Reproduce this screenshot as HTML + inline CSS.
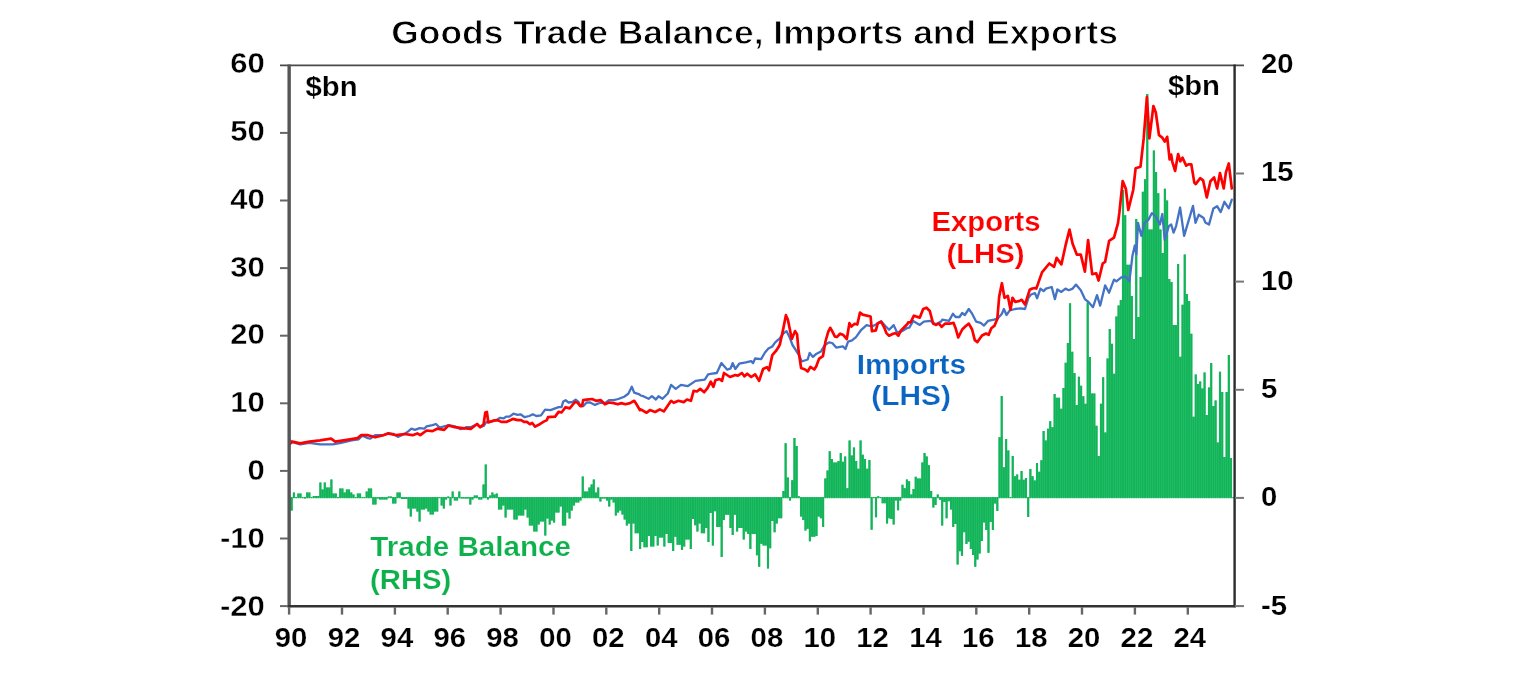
<!DOCTYPE html>
<html><head><meta charset="utf-8"><title>Goods Trade Balance, Imports and Exports</title>
<style>html,body{margin:0;padding:0;background:#fff}svg{display:block}text{font-family:"Liberation Sans",Arial,sans-serif;font-weight:bold}</style>
</head><body>
<svg width="1536" height="680" viewBox="0 0 1536 680">
<rect width="1536" height="680" fill="#fff"/>
<path d="M288.55 497.0h1.91V510.6h-1.91zM290.75 497.0h1.91V510.6h-1.91zM292.96 492.6h1.91V498.2h-1.91zM295.16 497.0h1.91V498.2h-1.91zM297.37 493.6h1.91V498.2h-1.91zM299.57 493.6h1.91V498.2h-1.91zM301.78 497.0h1.91V498.2h-1.91zM303.98 497.0h1.91V498.6h-1.91zM306.19 492.6h1.91V498.2h-1.91zM308.39 492.6h1.91V498.2h-1.91zM310.60 497.0h1.91V498.2h-1.91zM312.80 496.1h1.91V498.2h-1.91zM315.01 496.1h1.91V498.2h-1.91zM317.21 496.1h1.91V498.2h-1.91zM319.42 482.6h1.91V498.2h-1.91zM321.62 489.6h1.91V498.2h-1.91zM323.83 482.6h1.91V498.2h-1.91zM326.03 487.6h1.91V498.2h-1.91zM328.24 487.6h1.91V498.2h-1.91zM330.44 479.6h1.91V498.2h-1.91zM332.65 493.6h1.91V498.2h-1.91zM334.85 493.6h1.91V498.2h-1.91zM337.06 497.0h1.91V498.2h-1.91zM339.26 488.6h1.91V498.2h-1.91zM341.47 488.6h1.91V498.2h-1.91zM343.67 492.6h1.91V498.2h-1.91zM345.88 489.6h1.91V498.2h-1.91zM348.08 489.6h1.91V498.2h-1.91zM350.29 492.6h1.91V498.2h-1.91zM352.49 494.6h1.91V498.2h-1.91zM354.70 497.0h1.91V498.2h-1.91zM356.90 493.6h1.91V498.2h-1.91zM359.11 493.6h1.91V498.2h-1.91zM361.31 497.0h1.91V498.2h-1.91zM363.52 497.0h1.91V498.2h-1.91zM365.72 491.6h1.91V498.2h-1.91zM367.93 488.6h1.91V498.2h-1.91zM370.13 488.6h1.91V498.2h-1.91zM372.34 497.0h1.91V504.6h-1.91zM374.54 497.0h1.91V504.6h-1.91zM376.75 497.0h1.91V498.6h-1.91zM378.95 497.0h1.91V499.6h-1.91zM381.16 497.0h1.91V499.6h-1.91zM383.36 497.0h1.91V499.6h-1.91zM385.57 497.0h1.91V499.6h-1.91zM387.77 496.6h1.91V498.2h-1.91zM389.98 496.6h1.91V498.2h-1.91zM392.18 497.0h1.91V503.6h-1.91zM394.39 497.0h1.91V503.6h-1.91zM396.59 492.6h1.91V498.2h-1.91zM398.80 492.6h1.91V498.2h-1.91zM401.00 497.0h1.91V499.1h-1.91zM403.21 497.0h1.91V499.1h-1.91zM405.41 497.0h1.91V499.1h-1.91zM407.62 497.0h1.91V508.6h-1.91zM409.82 497.0h1.91V516.6h-1.91zM412.03 497.0h1.91V508.6h-1.91zM414.23 497.0h1.91V508.6h-1.91zM416.44 497.0h1.91V511.6h-1.91zM418.64 497.0h1.91V521.6h-1.91zM420.85 497.0h1.91V509.6h-1.91zM423.05 497.0h1.91V509.6h-1.91zM425.26 497.0h1.91V508.6h-1.91zM427.46 497.0h1.91V511.6h-1.91zM429.67 497.0h1.91V514.6h-1.91zM431.88 497.0h1.91V514.6h-1.91zM434.08 497.0h1.91V511.6h-1.91zM436.28 497.0h1.91V511.6h-1.91zM438.49 497.0h1.91V498.2h-1.91zM440.69 497.0h1.91V505.6h-1.91zM442.90 497.0h1.91V508.6h-1.91zM445.10 497.0h1.91V499.6h-1.91zM447.31 496.6h1.91V498.2h-1.91zM449.51 497.0h1.91V505.6h-1.91zM451.72 491.6h1.91V498.2h-1.91zM453.92 497.0h1.91V500.6h-1.91zM456.13 497.0h1.91V500.6h-1.91zM458.33 491.6h1.91V498.2h-1.91zM460.54 497.0h1.91V498.6h-1.91zM462.74 497.0h1.91V498.6h-1.91zM464.95 497.0h1.91V498.6h-1.91zM467.15 497.0h1.91V498.6h-1.91zM469.36 497.0h1.91V504.6h-1.91zM471.56 497.0h1.91V499.6h-1.91zM473.77 495.6h1.91V498.2h-1.91zM475.97 495.6h1.91V498.2h-1.91zM478.18 497.0h1.91V499.6h-1.91zM480.38 497.0h1.91V499.6h-1.91zM482.59 484.6h1.91V498.2h-1.91zM484.79 464.6h1.91V498.2h-1.91zM487.00 497.0h1.91V499.6h-1.91zM489.20 495.6h1.91V498.2h-1.91zM491.41 492.6h1.91V498.2h-1.91zM493.61 494.6h1.91V498.2h-1.91zM495.82 493.6h1.91V498.2h-1.91zM498.02 497.0h1.91V509.6h-1.91zM500.23 497.0h1.91V509.6h-1.91zM502.43 497.0h1.91V505.6h-1.91zM504.64 497.0h1.91V517.6h-1.91zM506.84 497.0h1.91V509.6h-1.91zM509.05 497.0h1.91V509.6h-1.91zM511.25 497.0h1.91V509.6h-1.91zM513.46 497.0h1.91V519.6h-1.91zM515.66 497.0h1.91V519.6h-1.91zM517.87 497.0h1.91V515.6h-1.91zM520.07 497.0h1.91V515.6h-1.91zM522.28 497.0h1.91V515.6h-1.91zM524.49 497.0h1.91V509.6h-1.91zM526.69 497.0h1.91V517.6h-1.91zM528.89 497.0h1.91V525.6h-1.91zM531.10 497.0h1.91V525.6h-1.91zM533.30 497.0h1.91V531.6h-1.91zM535.51 497.0h1.91V531.6h-1.91zM537.72 497.0h1.91V524.6h-1.91zM539.92 497.0h1.91V521.6h-1.91zM542.12 497.0h1.91V521.6h-1.91zM544.33 497.0h1.91V535.6h-1.91zM546.53 497.0h1.91V518.6h-1.91zM548.74 497.0h1.91V524.6h-1.91zM550.94 497.0h1.91V520.6h-1.91zM553.15 497.0h1.91V522.6h-1.91zM555.35 497.0h1.91V512.6h-1.91zM557.56 497.0h1.91V512.6h-1.91zM559.76 497.0h1.91V506.6h-1.91zM561.97 497.0h1.91V525.6h-1.91zM564.17 497.0h1.91V525.6h-1.91zM566.38 497.0h1.91V512.6h-1.91zM568.58 497.0h1.91V518.6h-1.91zM570.79 497.0h1.91V510.6h-1.91zM573.00 497.0h1.91V505.6h-1.91zM575.20 497.0h1.91V502.6h-1.91zM577.40 497.0h1.91V502.6h-1.91zM579.61 497.0h1.91V500.6h-1.91zM581.81 476.6h1.91V498.2h-1.91zM584.02 491.6h1.91V498.2h-1.91zM586.23 491.6h1.91V498.2h-1.91zM588.43 487.6h1.91V498.2h-1.91zM590.63 484.6h1.91V498.2h-1.91zM592.84 479.6h1.91V498.2h-1.91zM595.04 492.6h1.91V498.2h-1.91zM597.25 487.6h1.91V498.2h-1.91zM599.46 497.0h1.91V501.6h-1.91zM601.66 497.0h1.91V498.6h-1.91zM603.86 497.0h1.91V498.6h-1.91zM606.07 497.0h1.91V500.6h-1.91zM608.27 497.0h1.91V506.6h-1.91zM610.48 497.0h1.91V499.6h-1.91zM612.68 497.0h1.91V502.6h-1.91zM614.89 497.0h1.91V515.6h-1.91zM617.09 497.0h1.91V512.6h-1.91zM619.30 497.0h1.91V510.6h-1.91zM621.50 497.0h1.91V514.6h-1.91zM623.71 497.0h1.91V519.6h-1.91zM625.91 497.0h1.91V525.6h-1.91zM628.12 497.0h1.91V523.5h-1.91zM630.32 497.0h1.91V550.9h-1.91zM632.53 497.0h1.91V523.5h-1.91zM634.74 497.0h1.91V533.2h-1.91zM636.94 497.0h1.91V533.2h-1.91zM639.14 497.0h1.91V549.1h-1.91zM641.35 497.0h1.91V542.1h-1.91zM643.55 497.0h1.91V547.3h-1.91zM645.76 497.0h1.91V547.3h-1.91zM647.97 497.0h1.91V535.9h-1.91zM650.17 497.0h1.91V546.5h-1.91zM652.37 497.0h1.91V546.5h-1.91zM654.58 497.0h1.91V535.9h-1.91zM656.78 497.0h1.91V545.6h-1.91zM658.99 497.0h1.91V537.6h-1.91zM661.20 497.0h1.91V537.6h-1.91zM663.40 497.0h1.91V546.5h-1.91zM665.60 497.0h1.91V534.1h-1.91zM667.81 497.0h1.91V542.9h-1.91zM670.01 497.0h1.91V542.9h-1.91zM672.22 497.0h1.91V550.9h-1.91zM674.42 497.0h1.91V536.8h-1.91zM676.63 497.0h1.91V544.7h-1.91zM678.83 497.0h1.91V544.7h-1.91zM681.04 497.0h1.91V550.0h-1.91zM683.25 497.0h1.91V546.5h-1.91zM685.45 497.0h1.91V539.4h-1.91zM687.65 497.0h1.91V539.4h-1.91zM689.86 497.0h1.91V549.1h-1.91zM692.06 497.0h1.91V519.1h-1.91zM694.27 497.0h1.91V525.3h-1.91zM696.48 497.0h1.91V531.5h-1.91zM698.68 497.0h1.91V523.5h-1.91zM700.88 497.0h1.91V533.2h-1.91zM703.09 497.0h1.91V533.2h-1.91zM705.29 497.0h1.91V527.9h-1.91zM707.50 497.0h1.91V542.1h-1.91zM709.71 497.0h1.91V512.9h-1.91zM711.91 497.0h1.91V545.6h-1.91zM714.11 497.0h1.91V511.2h-1.91zM716.32 497.0h1.91V527.1h-1.91zM718.52 497.0h1.91V527.1h-1.91zM720.73 497.0h1.91V557.1h-1.91zM722.93 497.0h1.91V520.0h-1.91zM725.14 497.0h1.91V514.7h-1.91zM727.34 497.0h1.91V514.7h-1.91zM729.55 497.0h1.91V527.9h-1.91zM731.75 497.0h1.91V535.0h-1.91zM733.96 497.0h1.91V514.7h-1.91zM736.16 497.0h1.91V531.5h-1.91zM738.37 497.0h1.91V527.9h-1.91zM740.57 497.0h1.91V527.9h-1.91zM742.78 497.0h1.91V539.4h-1.91zM744.99 497.0h1.91V531.5h-1.91zM747.19 497.0h1.91V534.1h-1.91zM749.39 497.0h1.91V549.1h-1.91zM751.60 497.0h1.91V534.1h-1.91zM753.80 497.0h1.91V534.1h-1.91zM756.01 497.0h1.91V555.3h-1.91zM758.22 497.0h1.91V566.8h-1.91zM760.42 497.0h1.91V543.8h-1.91zM762.62 497.0h1.91V545.6h-1.91zM764.83 497.0h1.91V545.6h-1.91zM767.03 497.0h1.91V568.5h-1.91zM769.24 497.0h1.91V548.2h-1.91zM771.45 497.0h1.91V520.9h-1.91zM773.65 497.0h1.91V532.3h-1.91zM775.85 497.0h1.91V523.5h-1.91zM778.06 497.0h1.91V518.2h-1.91zM780.26 497.0h1.91V518.2h-1.91zM782.47 490.9h1.91V498.2h-1.91zM784.67 443.2h1.91V498.2h-1.91zM786.88 477.6h1.91V498.2h-1.91zM789.08 497.0h1.91V500.6h-1.91zM791.29 480.3h1.91V498.2h-1.91zM793.50 437.9h1.91V498.2h-1.91zM795.70 445.9h1.91V498.2h-1.91zM797.90 496.2h1.91V498.2h-1.91zM800.11 497.0h1.91V516.5h-1.91zM802.31 497.0h1.91V520.0h-1.91zM804.52 497.0h1.91V530.6h-1.91zM806.73 497.0h1.91V528.8h-1.91zM808.93 497.0h1.91V541.2h-1.91zM811.13 497.0h1.91V536.8h-1.91zM813.34 497.0h1.91V536.8h-1.91zM815.54 497.0h1.91V535.9h-1.91zM817.75 497.0h1.91V516.5h-1.91zM819.95 497.0h1.91V518.2h-1.91zM822.16 497.0h1.91V527.1h-1.91zM824.37 478.5h1.91V498.2h-1.91zM826.57 470.6h1.91V498.2h-1.91zM828.77 451.2h1.91V498.2h-1.91zM830.98 459.1h1.91V498.2h-1.91zM833.18 462.6h1.91V498.2h-1.91zM835.39 462.6h1.91V498.2h-1.91zM837.60 460.9h1.91V498.2h-1.91zM839.80 452.9h1.91V498.2h-1.91zM842.00 461.8h1.91V498.2h-1.91zM844.21 456.5h1.91V498.2h-1.91zM846.41 488.2h1.91V498.2h-1.91zM848.62 440.6h1.91V498.2h-1.91zM850.82 455.6h1.91V498.2h-1.91zM853.03 447.6h1.91V498.2h-1.91zM855.24 460.9h1.91V498.2h-1.91zM857.44 468.8h1.91V498.2h-1.91zM859.64 440.6h1.91V498.2h-1.91zM861.85 454.7h1.91V498.2h-1.91zM864.05 459.1h1.91V498.2h-1.91zM866.26 468.8h1.91V498.2h-1.91zM868.46 460.0h1.91V498.2h-1.91zM870.67 497.0h1.91V529.7h-1.91zM872.88 497.0h1.91V498.2h-1.91zM875.08 497.0h1.91V517.3h-1.91zM877.28 496.2h1.91V498.2h-1.91zM879.49 497.0h1.91V498.2h-1.91zM881.69 497.0h1.91V503.2h-1.91zM883.90 497.0h1.91V503.2h-1.91zM886.11 497.0h1.91V523.5h-1.91zM888.31 497.0h1.91V518.2h-1.91zM890.51 497.0h1.91V519.1h-1.91zM892.72 497.0h1.91V524.4h-1.91zM894.92 497.0h1.91V500.6h-1.91zM897.13 497.0h1.91V510.3h-1.91zM899.33 497.0h1.91V500.6h-1.91zM901.54 484.7h1.91V498.2h-1.91zM903.75 488.2h1.91V498.2h-1.91zM905.95 479.4h1.91V498.2h-1.91zM908.15 481.2h1.91V498.2h-1.91zM910.36 494.4h1.91V498.2h-1.91zM912.56 489.1h1.91V498.2h-1.91zM914.77 476.8h1.91V498.2h-1.91zM916.98 478.5h1.91V498.2h-1.91zM919.18 478.5h1.91V498.2h-1.91zM921.38 462.6h1.91V498.2h-1.91zM923.59 452.9h1.91V498.2h-1.91zM925.79 456.5h1.91V498.2h-1.91zM928.00 465.3h1.91V498.2h-1.91zM930.20 490.9h1.91V498.2h-1.91zM932.41 497.0h1.91V507.6h-1.91zM934.62 497.0h1.91V505.0h-1.91zM936.82 494.4h1.91V498.2h-1.91zM939.02 497.0h1.91V499.7h-1.91zM941.23 497.0h1.91V525.6h-1.91zM943.43 497.0h1.91V502.1h-1.91zM945.64 497.0h1.91V518.2h-1.91zM947.85 497.0h1.91V501.3h-1.91zM950.05 497.0h1.91V509.4h-1.91zM952.25 497.0h1.91V527.1h-1.91zM954.46 497.0h1.91V524.1h-1.91zM956.66 497.0h1.91V564.6h-1.91zM958.87 497.0h1.91V551.3h-1.91zM961.07 497.0h1.91V555.7h-1.91zM963.28 497.0h1.91V532.2h-1.91zM965.49 497.0h1.91V544.0h-1.91zM967.69 497.0h1.91V541.8h-1.91zM969.89 497.0h1.91V549.1h-1.91zM972.10 497.0h1.91V555.0h-1.91zM974.30 497.0h1.91V566.8h-1.91zM976.51 497.0h1.91V559.4h-1.91zM978.72 497.0h1.91V553.5h-1.91zM980.92 497.0h1.91V541.0h-1.91zM983.12 497.0h1.91V522.6h-1.91zM985.33 497.0h1.91V530.0h-1.91zM987.53 497.0h1.91V552.8h-1.91zM989.74 497.0h1.91V521.9h-1.91zM991.94 497.0h1.91V530.0h-1.91zM994.15 497.0h1.91V503.5h-1.91zM996.36 497.0h1.91V510.9h-1.91zM998.56 437.3h1.91V498.2h-1.91zM1000.76 395.9h1.91V498.2h-1.91zM1002.97 467.3h1.91V498.2h-1.91zM1005.17 439.1h1.91V498.2h-1.91zM1007.38 450.6h1.91V498.2h-1.91zM1009.58 497.0h1.91V498.2h-1.91zM1011.79 455.9h1.91V498.2h-1.91zM1014.00 476.2h1.91V498.2h-1.91zM1016.20 474.4h1.91V498.2h-1.91zM1018.40 479.7h1.91V498.2h-1.91zM1020.61 470.9h1.91V498.2h-1.91zM1022.81 479.7h1.91V498.2h-1.91zM1025.02 477.9h1.91V498.2h-1.91zM1027.23 497.0h1.91V516.9h-1.91zM1029.43 469.1h1.91V498.2h-1.91zM1031.64 476.2h1.91V498.2h-1.91zM1033.84 480.6h1.91V498.2h-1.91zM1036.05 462.9h1.91V498.2h-1.91zM1038.25 471.8h1.91V498.2h-1.91zM1040.45 460.3h1.91V498.2h-1.91zM1042.66 430.9h1.91V498.2h-1.91zM1044.87 440.4h1.91V498.2h-1.91zM1047.07 428.7h1.91V498.2h-1.91zM1049.28 421.3h1.91V498.2h-1.91zM1051.48 427.2h1.91V498.2h-1.91zM1053.68 394.1h1.91V498.2h-1.91zM1055.89 397.8h1.91V498.2h-1.91zM1058.10 397.8h1.91V498.2h-1.91zM1060.30 408.8h1.91V498.2h-1.91zM1062.51 388.0h1.91V498.2h-1.91zM1064.71 362.8h1.91V498.2h-1.91zM1066.91 343.0h1.91V498.2h-1.91zM1069.12 303.2h1.91V498.2h-1.91zM1071.33 351.8h1.91V498.2h-1.91zM1073.53 373.0h1.91V498.2h-1.91zM1075.74 405.1h1.91V498.2h-1.91zM1077.94 376.8h1.91V498.2h-1.91zM1080.14 385.8h1.91V498.2h-1.91zM1082.35 396.3h1.91V498.2h-1.91zM1084.56 403.7h1.91V498.2h-1.91zM1086.76 302.5h1.91V498.2h-1.91zM1088.97 357.0h1.91V498.2h-1.91zM1091.17 393.4h1.91V498.2h-1.91zM1093.38 393.4h1.91V498.2h-1.91zM1095.58 425.7h1.91V498.2h-1.91zM1097.79 455.9h1.91V498.2h-1.91zM1099.99 403.7h1.91V498.2h-1.91zM1102.20 377.3h1.91V498.2h-1.91zM1104.40 432.4h1.91V498.2h-1.91zM1106.61 358.4h1.91V498.2h-1.91zM1108.81 329.0h1.91V498.2h-1.91zM1111.02 343.7h1.91V498.2h-1.91zM1113.22 373.8h1.91V498.2h-1.91zM1115.43 316.5h1.91V498.2h-1.91zM1117.63 305.4h1.91V498.2h-1.91zM1119.84 300.0h1.91V498.2h-1.91zM1122.04 190.0h1.91V498.2h-1.91zM1124.25 215.3h1.91V498.2h-1.91zM1126.45 264.7h1.91V498.2h-1.91zM1128.66 264.7h1.91V498.2h-1.91zM1130.86 296.0h1.91V498.2h-1.91zM1133.07 339.0h1.91V498.2h-1.91zM1135.27 219.0h1.91V498.2h-1.91zM1137.48 317.0h1.91V498.2h-1.91zM1139.68 277.0h1.91V498.2h-1.91zM1141.89 191.8h1.91V498.2h-1.91zM1144.09 179.3h1.91V498.2h-1.91zM1146.30 94.0h1.91V498.2h-1.91zM1148.50 229.6h1.91V498.2h-1.91zM1150.70 229.6h1.91V498.2h-1.91zM1152.91 150.6h1.91V498.2h-1.91zM1155.12 172.0h1.91V498.2h-1.91zM1157.32 193.3h1.91V498.2h-1.91zM1159.53 229.6h1.91V498.2h-1.91zM1161.73 253.0h1.91V498.2h-1.91zM1163.93 188.8h1.91V498.2h-1.91zM1166.14 200.6h1.91V498.2h-1.91zM1168.35 279.0h1.91V498.2h-1.91zM1170.55 282.0h1.91V498.2h-1.91zM1172.76 325.0h1.91V498.2h-1.91zM1174.96 325.0h1.91V498.2h-1.91zM1177.16 264.0h1.91V498.2h-1.91zM1179.37 356.8h1.91V498.2h-1.91zM1181.58 304.7h1.91V498.2h-1.91zM1183.78 254.4h1.91V498.2h-1.91zM1185.99 294.0h1.91V498.2h-1.91zM1188.19 301.0h1.91V498.2h-1.91zM1190.39 333.8h1.91V498.2h-1.91zM1192.60 416.7h1.91V498.2h-1.91zM1194.81 374.4h1.91V498.2h-1.91zM1197.01 384.0h1.91V498.2h-1.91zM1199.22 381.5h1.91V498.2h-1.91zM1201.42 388.5h1.91V498.2h-1.91zM1203.62 372.6h1.91V498.2h-1.91zM1205.83 415.0h1.91V498.2h-1.91zM1208.04 387.6h1.91V498.2h-1.91zM1210.24 363.0h1.91V498.2h-1.91zM1212.45 406.0h1.91V498.2h-1.91zM1214.65 400.5h1.91V498.2h-1.91zM1216.86 442.6h1.91V498.2h-1.91zM1219.06 371.8h1.91V498.2h-1.91zM1221.27 392.0h1.91V498.2h-1.91zM1223.47 457.0h1.91V498.2h-1.91zM1225.68 392.0h1.91V498.2h-1.91zM1227.88 355.0h1.91V498.2h-1.91zM1230.09 458.0h1.91V498.2h-1.91zM1232.29 497.0h1.91V498.2h-1.91z" fill="#11B458"/>
<path d="M288.40 497.6h2.21V510.6h-2.21zM290.60 497.6h2.21V510.6h-2.21zM292.81 492.6h2.21V497.6h-2.21zM297.22 493.6h2.21V497.6h-2.21zM299.42 493.6h2.21V497.6h-2.21zM303.83 497.6h2.21V498.6h-2.21zM306.04 492.6h2.21V497.6h-2.21zM308.25 492.6h2.21V497.6h-2.21zM312.65 496.1h2.21V497.6h-2.21zM314.86 496.1h2.21V497.6h-2.21zM317.06 496.1h2.21V497.6h-2.21zM319.27 482.6h2.21V497.6h-2.21zM321.47 489.6h2.21V497.6h-2.21zM323.68 482.6h2.21V497.6h-2.21zM325.88 487.6h2.21V497.6h-2.21zM328.09 487.6h2.21V497.6h-2.21zM330.29 479.6h2.21V497.6h-2.21zM332.50 493.6h2.21V497.6h-2.21zM334.70 493.6h2.21V497.6h-2.21zM339.12 488.6h2.21V497.6h-2.21zM341.32 488.6h2.21V497.6h-2.21zM343.52 492.6h2.21V497.6h-2.21zM345.73 489.6h2.21V497.6h-2.21zM347.94 489.6h2.21V497.6h-2.21zM350.14 492.6h2.21V497.6h-2.21zM352.34 494.6h2.21V497.6h-2.21zM356.75 493.6h2.21V497.6h-2.21zM358.96 493.6h2.21V497.6h-2.21zM365.57 491.6h2.21V497.6h-2.21zM367.78 488.6h2.21V497.6h-2.21zM369.99 488.6h2.21V497.6h-2.21zM372.19 497.6h2.21V504.6h-2.21zM374.39 497.6h2.21V504.6h-2.21zM376.60 497.6h2.21V498.6h-2.21zM378.80 497.6h2.21V499.6h-2.21zM381.01 497.6h2.21V499.6h-2.21zM383.21 497.6h2.21V499.6h-2.21zM385.42 497.6h2.21V499.6h-2.21zM387.62 496.6h2.21V497.6h-2.21zM389.83 496.6h2.21V497.6h-2.21zM392.03 497.6h2.21V503.6h-2.21zM394.24 497.6h2.21V503.6h-2.21zM396.44 492.6h2.21V497.6h-2.21zM398.65 492.6h2.21V497.6h-2.21zM400.85 497.6h2.21V499.1h-2.21zM403.06 497.6h2.21V499.1h-2.21zM405.26 497.6h2.21V499.1h-2.21zM407.47 497.6h2.21V508.6h-2.21zM409.67 497.6h2.21V516.6h-2.21zM411.88 497.6h2.21V508.6h-2.21zM414.08 497.6h2.21V508.6h-2.21zM416.29 497.6h2.21V511.6h-2.21zM418.50 497.6h2.21V521.6h-2.21zM420.70 497.6h2.21V509.6h-2.21zM422.90 497.6h2.21V509.6h-2.21zM425.11 497.6h2.21V508.6h-2.21zM427.31 497.6h2.21V511.6h-2.21zM429.52 497.6h2.21V514.6h-2.21zM431.73 497.6h2.21V514.6h-2.21zM433.93 497.6h2.21V511.6h-2.21zM436.13 497.6h2.21V511.6h-2.21zM440.54 497.6h2.21V505.6h-2.21zM442.75 497.6h2.21V508.6h-2.21zM444.95 497.6h2.21V499.6h-2.21zM447.16 496.6h2.21V497.6h-2.21zM449.37 497.6h2.21V505.6h-2.21zM451.57 491.6h2.21V497.6h-2.21zM453.77 497.6h2.21V500.6h-2.21zM455.98 497.6h2.21V500.6h-2.21zM458.18 491.6h2.21V497.6h-2.21zM460.39 497.6h2.21V498.6h-2.21zM462.59 497.6h2.21V498.6h-2.21zM464.80 497.6h2.21V498.6h-2.21zM467.00 497.6h2.21V498.6h-2.21zM469.21 497.6h2.21V504.6h-2.21zM471.41 497.6h2.21V499.6h-2.21zM473.62 495.6h2.21V497.6h-2.21zM475.82 495.6h2.21V497.6h-2.21zM478.03 497.6h2.21V499.6h-2.21zM480.24 497.6h2.21V499.6h-2.21zM482.44 484.6h2.21V497.6h-2.21zM484.64 464.6h2.21V497.6h-2.21zM486.85 497.6h2.21V499.6h-2.21zM489.05 495.6h2.21V497.6h-2.21zM491.26 492.6h2.21V497.6h-2.21zM493.46 494.6h2.21V497.6h-2.21zM495.67 493.6h2.21V497.6h-2.21zM497.88 497.6h2.21V509.6h-2.21zM500.08 497.6h2.21V509.6h-2.21zM502.28 497.6h2.21V505.6h-2.21zM504.49 497.6h2.21V517.6h-2.21zM506.69 497.6h2.21V509.6h-2.21zM508.90 497.6h2.21V509.6h-2.21zM511.11 497.6h2.21V509.6h-2.21zM513.31 497.6h2.21V519.6h-2.21zM515.51 497.6h2.21V519.6h-2.21zM517.72 497.6h2.21V515.6h-2.21zM519.92 497.6h2.21V515.6h-2.21zM522.13 497.6h2.21V515.6h-2.21zM524.34 497.6h2.21V509.6h-2.21zM526.54 497.6h2.21V517.6h-2.21zM528.75 497.6h2.21V525.6h-2.21zM530.95 497.6h2.21V525.6h-2.21zM533.15 497.6h2.21V531.6h-2.21zM535.36 497.6h2.21V531.6h-2.21zM537.57 497.6h2.21V524.6h-2.21zM539.77 497.6h2.21V521.6h-2.21zM541.98 497.6h2.21V521.6h-2.21zM544.18 497.6h2.21V535.6h-2.21zM546.38 497.6h2.21V518.6h-2.21zM548.59 497.6h2.21V524.6h-2.21zM550.79 497.6h2.21V520.6h-2.21zM553.00 497.6h2.21V522.6h-2.21zM555.20 497.6h2.21V512.6h-2.21zM557.41 497.6h2.21V512.6h-2.21zM559.62 497.6h2.21V506.6h-2.21zM561.82 497.6h2.21V525.6h-2.21zM564.02 497.6h2.21V525.6h-2.21zM566.23 497.6h2.21V512.6h-2.21zM568.43 497.6h2.21V518.6h-2.21zM570.64 497.6h2.21V510.6h-2.21zM572.85 497.6h2.21V505.6h-2.21zM575.05 497.6h2.21V502.6h-2.21zM577.25 497.6h2.21V502.6h-2.21zM579.46 497.6h2.21V500.6h-2.21zM581.66 476.6h2.21V497.6h-2.21zM583.87 491.6h2.21V497.6h-2.21zM586.08 491.6h2.21V497.6h-2.21zM588.28 487.6h2.21V497.6h-2.21zM590.49 484.6h2.21V497.6h-2.21zM592.69 479.6h2.21V497.6h-2.21zM594.89 492.6h2.21V497.6h-2.21zM597.10 487.6h2.21V497.6h-2.21zM599.31 497.6h2.21V501.6h-2.21zM601.51 497.6h2.21V498.6h-2.21zM603.71 497.6h2.21V498.6h-2.21zM605.92 497.6h2.21V500.6h-2.21zM608.12 497.6h2.21V506.6h-2.21zM610.33 497.6h2.21V499.6h-2.21zM612.53 497.6h2.21V502.6h-2.21zM614.74 497.6h2.21V515.6h-2.21zM616.94 497.6h2.21V512.6h-2.21zM619.15 497.6h2.21V510.6h-2.21zM621.36 497.6h2.21V514.6h-2.21zM623.56 497.6h2.21V519.6h-2.21zM625.76 497.6h2.21V525.6h-2.21zM627.97 497.6h2.21V523.5h-2.21zM630.17 497.6h2.21V550.9h-2.21zM632.38 497.6h2.21V523.5h-2.21zM634.59 497.6h2.21V533.2h-2.21zM636.79 497.6h2.21V533.2h-2.21zM639.00 497.6h2.21V549.1h-2.21zM641.20 497.6h2.21V542.1h-2.21zM643.40 497.6h2.21V547.3h-2.21zM645.61 497.6h2.21V547.3h-2.21zM647.82 497.6h2.21V535.9h-2.21zM650.02 497.6h2.21V546.5h-2.21zM652.22 497.6h2.21V546.5h-2.21zM654.43 497.6h2.21V535.9h-2.21zM656.63 497.6h2.21V545.6h-2.21zM658.84 497.6h2.21V537.6h-2.21zM661.05 497.6h2.21V537.6h-2.21zM663.25 497.6h2.21V546.5h-2.21zM665.45 497.6h2.21V534.1h-2.21zM667.66 497.6h2.21V542.9h-2.21zM669.87 497.6h2.21V542.9h-2.21zM672.07 497.6h2.21V550.9h-2.21zM674.27 497.6h2.21V536.8h-2.21zM676.48 497.6h2.21V544.7h-2.21zM678.68 497.6h2.21V544.7h-2.21zM680.89 497.6h2.21V550.0h-2.21zM683.10 497.6h2.21V546.5h-2.21zM685.30 497.6h2.21V539.4h-2.21zM687.50 497.6h2.21V539.4h-2.21zM689.71 497.6h2.21V549.1h-2.21zM691.91 497.6h2.21V519.1h-2.21zM694.12 497.6h2.21V525.3h-2.21zM696.33 497.6h2.21V531.5h-2.21zM698.53 497.6h2.21V523.5h-2.21zM700.74 497.6h2.21V533.2h-2.21zM702.94 497.6h2.21V533.2h-2.21zM705.14 497.6h2.21V527.9h-2.21zM707.35 497.6h2.21V542.1h-2.21zM709.56 497.6h2.21V512.9h-2.21zM711.76 497.6h2.21V545.6h-2.21zM713.96 497.6h2.21V511.2h-2.21zM716.17 497.6h2.21V527.1h-2.21zM718.38 497.6h2.21V527.1h-2.21zM720.58 497.6h2.21V557.1h-2.21zM722.78 497.6h2.21V520.0h-2.21zM724.99 497.6h2.21V514.7h-2.21zM727.19 497.6h2.21V514.7h-2.21zM729.40 497.6h2.21V527.9h-2.21zM731.61 497.6h2.21V535.0h-2.21zM733.81 497.6h2.21V514.7h-2.21zM736.01 497.6h2.21V531.5h-2.21zM738.22 497.6h2.21V527.9h-2.21zM740.42 497.6h2.21V527.9h-2.21zM742.63 497.6h2.21V539.4h-2.21zM744.84 497.6h2.21V531.5h-2.21zM747.04 497.6h2.21V534.1h-2.21zM749.25 497.6h2.21V549.1h-2.21zM751.45 497.6h2.21V534.1h-2.21zM753.65 497.6h2.21V534.1h-2.21zM755.86 497.6h2.21V555.3h-2.21zM758.07 497.6h2.21V566.8h-2.21zM760.27 497.6h2.21V543.8h-2.21zM762.47 497.6h2.21V545.6h-2.21zM764.68 497.6h2.21V545.6h-2.21zM766.88 497.6h2.21V568.5h-2.21zM769.09 497.6h2.21V548.2h-2.21zM771.30 497.6h2.21V520.9h-2.21zM773.50 497.6h2.21V532.3h-2.21zM775.70 497.6h2.21V523.5h-2.21zM777.91 497.6h2.21V518.2h-2.21zM780.12 497.6h2.21V518.2h-2.21zM782.32 490.9h2.21V497.6h-2.21zM784.52 443.2h2.21V497.6h-2.21zM786.73 477.6h2.21V497.6h-2.21zM788.93 497.6h2.21V500.6h-2.21zM791.14 480.3h2.21V497.6h-2.21zM793.35 437.9h2.21V497.6h-2.21zM795.55 445.9h2.21V497.6h-2.21zM797.75 496.2h2.21V497.6h-2.21zM799.96 497.6h2.21V516.5h-2.21zM802.16 497.6h2.21V520.0h-2.21zM804.37 497.6h2.21V530.6h-2.21zM806.58 497.6h2.21V528.8h-2.21zM808.78 497.6h2.21V541.2h-2.21zM810.99 497.6h2.21V536.8h-2.21zM813.19 497.6h2.21V536.8h-2.21zM815.39 497.6h2.21V535.9h-2.21zM817.60 497.6h2.21V516.5h-2.21zM819.80 497.6h2.21V518.2h-2.21zM822.01 497.6h2.21V527.1h-2.21zM824.22 478.5h2.21V497.6h-2.21zM826.42 470.6h2.21V497.6h-2.21zM828.62 451.2h2.21V497.6h-2.21zM830.83 459.1h2.21V497.6h-2.21zM833.03 462.6h2.21V497.6h-2.21zM835.24 462.6h2.21V497.6h-2.21zM837.45 460.9h2.21V497.6h-2.21zM839.65 452.9h2.21V497.6h-2.21zM841.86 461.8h2.21V497.6h-2.21zM844.06 456.5h2.21V497.6h-2.21zM846.26 488.2h2.21V497.6h-2.21zM848.47 440.6h2.21V497.6h-2.21zM850.67 455.6h2.21V497.6h-2.21zM852.88 447.6h2.21V497.6h-2.21zM855.09 460.9h2.21V497.6h-2.21zM857.29 468.8h2.21V497.6h-2.21zM859.50 440.6h2.21V497.6h-2.21zM861.70 454.7h2.21V497.6h-2.21zM863.90 459.1h2.21V497.6h-2.21zM866.11 468.8h2.21V497.6h-2.21zM868.31 460.0h2.21V497.6h-2.21zM870.52 497.6h2.21V529.7h-2.21zM874.93 497.6h2.21V517.3h-2.21zM877.13 496.2h2.21V497.6h-2.21zM881.54 497.6h2.21V503.2h-2.21zM883.75 497.6h2.21V503.2h-2.21zM885.96 497.6h2.21V523.5h-2.21zM888.16 497.6h2.21V518.2h-2.21zM890.37 497.6h2.21V519.1h-2.21zM892.57 497.6h2.21V524.4h-2.21zM894.77 497.6h2.21V500.6h-2.21zM896.98 497.6h2.21V510.3h-2.21zM899.18 497.6h2.21V500.6h-2.21zM901.39 484.7h2.21V497.6h-2.21zM903.60 488.2h2.21V497.6h-2.21zM905.80 479.4h2.21V497.6h-2.21zM908.00 481.2h2.21V497.6h-2.21zM910.21 494.4h2.21V497.6h-2.21zM912.41 489.1h2.21V497.6h-2.21zM914.62 476.8h2.21V497.6h-2.21zM916.83 478.5h2.21V497.6h-2.21zM919.03 478.5h2.21V497.6h-2.21zM921.24 462.6h2.21V497.6h-2.21zM923.44 452.9h2.21V497.6h-2.21zM925.64 456.5h2.21V497.6h-2.21zM927.85 465.3h2.21V497.6h-2.21zM930.05 490.9h2.21V497.6h-2.21zM932.26 497.6h2.21V507.6h-2.21zM934.47 497.6h2.21V505.0h-2.21zM936.67 494.4h2.21V497.6h-2.21zM938.88 497.6h2.21V499.7h-2.21zM941.08 497.6h2.21V525.6h-2.21zM943.28 497.6h2.21V502.1h-2.21zM945.49 497.6h2.21V518.2h-2.21zM947.70 497.6h2.21V501.3h-2.21zM949.90 497.6h2.21V509.4h-2.21zM952.11 497.6h2.21V527.1h-2.21zM954.31 497.6h2.21V524.1h-2.21zM956.51 497.6h2.21V564.6h-2.21zM958.72 497.6h2.21V551.3h-2.21zM960.92 497.6h2.21V555.7h-2.21zM963.13 497.6h2.21V532.2h-2.21zM965.34 497.6h2.21V544.0h-2.21zM967.54 497.6h2.21V541.8h-2.21zM969.75 497.6h2.21V549.1h-2.21zM971.95 497.6h2.21V555.0h-2.21zM974.15 497.6h2.21V566.8h-2.21zM976.36 497.6h2.21V559.4h-2.21zM978.57 497.6h2.21V553.5h-2.21zM980.77 497.6h2.21V541.0h-2.21zM982.98 497.6h2.21V522.6h-2.21zM985.18 497.6h2.21V530.0h-2.21zM987.38 497.6h2.21V552.8h-2.21zM989.59 497.6h2.21V521.9h-2.21zM991.79 497.6h2.21V530.0h-2.21zM994.00 497.6h2.21V503.5h-2.21zM996.21 497.6h2.21V510.9h-2.21zM998.41 437.3h2.21V497.6h-2.21zM1000.62 395.9h2.21V497.6h-2.21zM1002.82 467.3h2.21V497.6h-2.21zM1005.02 439.1h2.21V497.6h-2.21zM1007.23 450.6h2.21V497.6h-2.21zM1011.64 455.9h2.21V497.6h-2.21zM1013.85 476.2h2.21V497.6h-2.21zM1016.05 474.4h2.21V497.6h-2.21zM1018.25 479.7h2.21V497.6h-2.21zM1020.46 470.9h2.21V497.6h-2.21zM1022.66 479.7h2.21V497.6h-2.21zM1024.87 477.9h2.21V497.6h-2.21zM1027.08 497.6h2.21V516.9h-2.21zM1029.28 469.1h2.21V497.6h-2.21zM1031.49 476.2h2.21V497.6h-2.21zM1033.69 480.6h2.21V497.6h-2.21zM1035.89 462.9h2.21V497.6h-2.21zM1038.10 471.8h2.21V497.6h-2.21zM1040.30 460.3h2.21V497.6h-2.21zM1042.51 430.9h2.21V497.6h-2.21zM1044.72 440.4h2.21V497.6h-2.21zM1046.92 428.7h2.21V497.6h-2.21zM1049.12 421.3h2.21V497.6h-2.21zM1051.33 427.2h2.21V497.6h-2.21zM1053.53 394.1h2.21V497.6h-2.21zM1055.74 397.8h2.21V497.6h-2.21zM1057.95 397.8h2.21V497.6h-2.21zM1060.15 408.8h2.21V497.6h-2.21zM1062.36 388.0h2.21V497.6h-2.21zM1064.56 362.8h2.21V497.6h-2.21zM1066.76 343.0h2.21V497.6h-2.21zM1068.97 303.2h2.21V497.6h-2.21zM1071.17 351.8h2.21V497.6h-2.21zM1073.38 373.0h2.21V497.6h-2.21zM1075.59 405.1h2.21V497.6h-2.21zM1077.79 376.8h2.21V497.6h-2.21zM1079.99 385.8h2.21V497.6h-2.21zM1082.20 396.3h2.21V497.6h-2.21zM1084.40 403.7h2.21V497.6h-2.21zM1086.61 302.5h2.21V497.6h-2.21zM1088.82 357.0h2.21V497.6h-2.21zM1091.02 393.4h2.21V497.6h-2.21zM1093.22 393.4h2.21V497.6h-2.21zM1095.43 425.7h2.21V497.6h-2.21zM1097.63 455.9h2.21V497.6h-2.21zM1099.84 403.7h2.21V497.6h-2.21zM1102.05 377.3h2.21V497.6h-2.21zM1104.25 432.4h2.21V497.6h-2.21zM1106.45 358.4h2.21V497.6h-2.21zM1108.66 329.0h2.21V497.6h-2.21zM1110.87 343.7h2.21V497.6h-2.21zM1113.07 373.8h2.21V497.6h-2.21zM1115.28 316.5h2.21V497.6h-2.21zM1117.48 305.4h2.21V497.6h-2.21zM1119.68 300.0h2.21V497.6h-2.21zM1121.89 190.0h2.21V497.6h-2.21zM1124.10 215.3h2.21V497.6h-2.21zM1126.30 264.7h2.21V497.6h-2.21zM1128.51 264.7h2.21V497.6h-2.21zM1130.71 296.0h2.21V497.6h-2.21zM1132.91 339.0h2.21V497.6h-2.21zM1135.12 219.0h2.21V497.6h-2.21zM1137.33 317.0h2.21V497.6h-2.21zM1139.53 277.0h2.21V497.6h-2.21zM1141.74 191.8h2.21V497.6h-2.21zM1143.94 179.3h2.21V497.6h-2.21zM1146.14 94.0h2.21V497.6h-2.21zM1148.35 229.6h2.21V497.6h-2.21zM1150.55 229.6h2.21V497.6h-2.21zM1152.76 150.6h2.21V497.6h-2.21zM1154.97 172.0h2.21V497.6h-2.21zM1157.17 193.3h2.21V497.6h-2.21zM1159.38 229.6h2.21V497.6h-2.21zM1161.58 253.0h2.21V497.6h-2.21zM1163.78 188.8h2.21V497.6h-2.21zM1165.99 200.6h2.21V497.6h-2.21zM1168.20 279.0h2.21V497.6h-2.21zM1170.40 282.0h2.21V497.6h-2.21zM1172.61 325.0h2.21V497.6h-2.21zM1174.81 325.0h2.21V497.6h-2.21zM1177.01 264.0h2.21V497.6h-2.21zM1179.22 356.8h2.21V497.6h-2.21zM1181.42 304.7h2.21V497.6h-2.21zM1183.63 254.4h2.21V497.6h-2.21zM1185.84 294.0h2.21V497.6h-2.21zM1188.04 301.0h2.21V497.6h-2.21zM1190.24 333.8h2.21V497.6h-2.21zM1192.45 416.7h2.21V497.6h-2.21zM1194.65 374.4h2.21V497.6h-2.21zM1196.86 384.0h2.21V497.6h-2.21zM1199.07 381.5h2.21V497.6h-2.21zM1201.27 388.5h2.21V497.6h-2.21zM1203.47 372.6h2.21V497.6h-2.21zM1205.68 415.0h2.21V497.6h-2.21zM1207.88 387.6h2.21V497.6h-2.21zM1210.09 363.0h2.21V497.6h-2.21zM1212.30 406.0h2.21V497.6h-2.21zM1214.50 400.5h2.21V497.6h-2.21zM1216.70 442.6h2.21V497.6h-2.21zM1218.91 371.8h2.21V497.6h-2.21zM1221.12 392.0h2.21V497.6h-2.21zM1223.32 457.0h2.21V497.6h-2.21zM1225.53 392.0h2.21V497.6h-2.21zM1227.73 355.0h2.21V497.6h-2.21zM1229.93 458.0h2.21V497.6h-2.21z" fill="#11B458" opacity="0.75"/>
<polyline points="290.1,440.4 292.4,442.2 300.1,444.3 309.4,442.8 320.0,444.3 332.9,444.3 341.1,442.8 351.6,440.4 358.7,439.3 362.2,435.7 368.0,438.1 370.4,438.7 375.1,435.2 383.3,435.2 388.0,433.4 393.8,434.0 397.9,436.9 404.4,434.0 407.9,431.6 411.4,428.7 414.9,429.9 419.6,428.1 424.3,428.7 426.6,426.4 432.5,425.2 436.0,424.0 439.5,427.5 444.2,426.4 448.9,425.2 454.8,426.4 460.6,429.1 464.7,428.1 466.0,427.2 470.7,427.2 477.1,424.2 480.1,427.2 483.6,426.0 486.5,421.9 493.0,421.3 497.6,419.5 500.0,417.8 503.5,418.4 506.4,416.6 509.4,416.6 513.5,413.7 517.6,414.8 520.5,414.3 524.6,417.2 529.3,416.0 532.8,414.3 536.3,416.0 541.0,415.4 545.1,409.6 550.4,410.2 558.6,407.2 561.5,407.2 563.3,401.4 565.6,400.2 568.5,402.5 572.6,402.0 575.6,399.6 578.5,402.0 580.3,405.5 583.2,406.1 586.7,402.5 590.2,402.5 594.9,404.9 600.8,402.5 604.9,403.1 609.0,400.2 613.7,400.2 618.3,399.0 624.2,396.7 628.3,393.8 631.8,386.7 634.2,392.6 639.4,394.3 640.7,395.5 643.3,396.2 648.6,398.8 651.9,396.2 655.9,399.5 658.5,396.2 662.5,398.8 667.8,393.5 671.1,384.9 675.7,388.9 681.0,384.9 687.6,386.2 695.6,380.9 704.8,379.6 708.1,374.3 712.1,373.7 716.8,373.0 721.4,363.1 727.3,369.7 730.6,368.4 732.6,363.1 735.3,369.0 739.2,363.7 745.9,362.4 751.2,361.1 753.1,363.1 755.1,358.5 761.1,359.1 765.0,352.5 768.4,348.5 772.3,346.5 775.0,342.6 778.2,339.7 779.3,339.0 783.2,333.7 786.5,331.1 789.2,336.4 792.5,345.0 795.1,349.0 798.5,354.3 801.8,361.5 807.7,359.5 809.7,352.9 813.0,356.9 815.7,354.3 820.9,351.6 824.3,345.7 828.9,342.3 832.2,343.0 836.2,347.6 842.8,346.3 845.4,349.0 848.1,341.7 852.0,340.4 856.0,337.1 861.3,329.8 866.6,325.1 871.9,326.5 875.9,324.5 881.2,321.2 885.1,325.8 889.1,329.8 893.7,325.1 897.0,332.4 902.3,331.1 907.6,327.8 909.3,327.6 913.2,320.9 919.8,324.9 923.8,321.6 930.4,320.9 935.7,324.3 941.0,321.6 942.3,319.6 949.0,320.9 952.9,313.7 955.6,317.0 959.5,317.0 962.2,313.0 964.8,315.0 968.8,309.0 972.1,313.7 976.1,321.6 980.7,322.9 984.0,325.6 988.0,320.9 994.0,319.6 997.9,318.3 1001.9,313.7 1003.9,309.0 1006.5,315.0 1009.8,310.4 1015.1,309.0 1020.4,308.4 1025.0,309.0 1028.4,297.8 1031.0,294.5 1035.0,293.2 1037.1,298.3 1040.4,288.6 1043.6,291.1 1046.0,288.6 1051.7,287.0 1054.9,299.1 1057.4,289.4 1061.4,291.9 1065.5,288.6 1068.7,290.2 1072.7,288.6 1076.0,284.6 1080.8,290.2 1084.9,299.1 1088.9,302.4 1093.0,307.2 1097.0,295.1 1100.2,305.6 1105.1,285.4 1109.1,292.7 1114.0,279.7 1116.4,281.3 1121.3,277.3 1125.3,276.5 1129.4,281.3 1132.4,256.1 1134.8,245.5 1136.4,254.4 1138.0,222.9 1141.3,235.8 1144.5,222.9 1148.5,219.6 1151.8,213.2 1155.8,216.4 1159.9,224.5 1162.3,214.0 1164.7,239.9 1168.8,226.1 1171.2,224.5 1173.6,232.6 1176.1,226.1 1180.1,207.5 1184.1,235.8 1193.0,205.9 1195.5,222.9 1198.7,214.8 1203.6,218.0 1205.3,222.4 1209.0,224.6 1213.4,208.4 1217.1,206.2 1220.7,212.1 1224.4,201.8 1228.8,208.4 1231.8,199.6" fill="none" stroke="#4472C4" stroke-width="2.3" stroke-linejoin="round" stroke-linecap="round"/>
<polyline points="290.1,443.9 292.4,441.6 300.1,443.4 309.4,441.6 320.0,440.4 331.1,438.7 335.2,441.6 346.9,439.8 357.5,438.1 361.0,435.2 368.0,435.2 375.1,437.3 383.3,435.2 388.0,433.4 396.2,435.2 404.4,434.0 412.6,435.2 417.3,433.4 420.2,435.2 426.6,430.5 432.5,431.1 437.2,428.7 444.2,429.9 448.3,425.5 454.8,427.2 464.1,428.4 466.0,428.3 470.7,428.9 477.1,424.0 480.1,427.2 483.6,424.2 485.3,412.5 486.9,411.9 488.3,422.5 493.0,420.7 497.6,420.1 501.2,421.9 506.4,421.9 512.9,418.9 517.6,420.1 521.1,420.1 524.0,421.9 526.9,421.9 529.9,424.2 532.2,423.0 535.1,426.6 538.7,424.8 543.3,421.9 546.9,420.1 548.0,417.2 555.1,416.6 558.6,411.9 561.5,412.5 565.6,407.2 569.7,408.4 575.0,402.0 577.3,402.5 580.3,406.1 582.0,406.1 583.2,400.2 586.7,399.6 592.0,399.0 596.1,400.8 600.8,400.2 604.9,404.3 609.0,402.5 613.7,403.1 617.8,404.3 621.3,403.1 625.4,404.3 630.1,403.1 634.2,400.8 636.5,404.3 640.0,410.2 640.7,409.4 646.6,412.7 649.9,410.1 655.2,412.0 659.8,409.4 663.8,411.4 671.1,400.8 673.7,402.8 678.4,400.8 683.7,402.1 687.0,399.5 690.9,400.8 693.6,390.9 696.9,391.5 700.2,388.9 704.2,392.2 707.5,388.2 710.8,381.6 713.4,386.9 715.4,380.3 719.4,379.0 722.0,380.9 724.0,373.0 730.0,377.0 735.3,375.0 737.9,375.7 741.9,373.0 744.5,376.3 747.2,373.7 751.2,377.0 755.1,374.3 759.1,380.9 763.1,369.0 767.0,367.1 769.0,370.4 772.3,355.1 776.3,350.5 778.2,347.6 779.9,344.3 783.2,329.1 785.9,315.2 787.9,319.8 791.8,339.0 795.1,331.1 797.1,334.4 798.5,350.3 801.1,368.1 805.1,369.5 807.7,371.5 810.4,366.8 814.3,369.5 816.3,366.2 819.0,358.9 822.9,356.2 825.6,341.0 828.2,331.8 830.2,327.8 832.2,331.1 834.8,336.4 836.8,337.1 840.1,333.7 843.4,335.1 846.8,339.0 849.4,323.2 851.4,326.5 854.7,323.8 857.3,324.5 860.0,312.6 862.6,314.6 870.6,316.5 871.9,331.1 875.9,330.4 877.8,323.2 881.2,321.8 883.8,326.5 886.4,333.1 889.1,335.7 893.1,333.7 895.7,333.1 898.4,335.7 901.0,330.4 903.7,327.8 907.6,323.8 908.2,322.3 910.6,322.3 913.9,315.7 919.8,317.6 923.2,309.0 926.5,307.7 929.8,311.0 933.1,323.6 935.7,324.9 939.0,323.6 941.7,326.9 945.0,323.6 949.6,323.6 953.6,322.9 955.6,328.2 958.2,337.5 962.2,329.5 965.5,326.2 968.8,323.6 972.1,329.5 974.8,340.1 977.4,342.1 982.0,335.5 986.0,333.5 988.7,334.8 991.3,328.2 994.6,325.6 997.3,319.0 999.2,296.5 1001.9,283.2 1004.5,297.8 1007.8,295.8 1010.5,309.7 1012.5,297.8 1015.1,301.8 1019.1,301.1 1021.7,299.8 1025.0,304.4 1029.7,289.8 1032.3,288.5 1036.3,287.9 1036.3,288.6 1042.0,272.4 1049.3,263.5 1054.1,266.8 1056.6,257.9 1061.4,264.4 1065.5,245.7 1069.5,229.6 1072.7,244.1 1076.8,254.6 1080.8,254.6 1084.9,271.6 1088.1,240.1 1092.2,274.1 1096.2,273.3 1098.6,280.5 1102.7,263.5 1105.1,261.9 1109.1,240.9 1114.0,237.7 1118.0,223.1 1119.4,212.4 1122.7,181 1125.9,189 1128.3,210 1133.2,190 1135.6,168.3 1140.5,166.7 1143.7,138.4 1146.9,97.1 1149.4,138.4 1153.4,106 1155.8,112.5 1159,135.2 1162.3,137.6 1164.7,141.6 1167.2,136.8 1169.6,159.4 1171.2,154.6 1172.2,161.3 1175.1,170.9 1178.1,154.0 1180.3,161.3 1182.5,157.6 1186.2,165.7 1188.4,164.3 1191.3,164.3 1194.3,182.6 1195.7,184.1 1200.1,178.2 1203.1,180.4 1206.8,197.4 1210.4,181.2 1214.1,177.5 1217.1,188.5 1220.0,173.1 1223.7,188.5 1225.9,172.4 1228.8,163.5 1231.8,188.5" fill="none" stroke="#FF0000" stroke-width="2.7" stroke-linejoin="round" stroke-linecap="round"/>
<line x1="280" y1="65.3" x2="1244" y2="65.3" stroke="#4a4a4a" stroke-width="1.8"/>
<line x1="289.15" y1="64.4" x2="289.15" y2="607.3" stroke="#555" stroke-width="3.4"/>
<line x1="1234.6" y1="64.4" x2="1234.6" y2="607.3" stroke="#2b2b2b" stroke-width="2.4"/>
<line x1="287.5" y1="606.2" x2="1235.8" y2="606.2" stroke="#333" stroke-width="2.4"/>
<line x1="280" y1="132.9" x2="288" y2="132.9" stroke="#666" stroke-width="2"/>
<line x1="280" y1="200.5" x2="288" y2="200.5" stroke="#666" stroke-width="2"/>
<line x1="280" y1="268.1" x2="288" y2="268.1" stroke="#666" stroke-width="2"/>
<line x1="280" y1="335.7" x2="288" y2="335.7" stroke="#666" stroke-width="2"/>
<line x1="280" y1="403.3" x2="288" y2="403.3" stroke="#666" stroke-width="2"/>
<line x1="280" y1="470.9" x2="288" y2="470.9" stroke="#666" stroke-width="2"/>
<line x1="280" y1="538.5" x2="288" y2="538.5" stroke="#666" stroke-width="2"/>
<line x1="280" y1="606.1" x2="288" y2="606.1" stroke="#666" stroke-width="2"/>
<line x1="1235" y1="173.5" x2="1244" y2="173.5" stroke="#777" stroke-width="2"/>
<line x1="1235" y1="281.6" x2="1244" y2="281.6" stroke="#777" stroke-width="2"/>
<line x1="1235" y1="389.8" x2="1244" y2="389.8" stroke="#777" stroke-width="2"/>
<line x1="1235" y1="497.9" x2="1244" y2="497.9" stroke="#777" stroke-width="2"/>
<line x1="1235" y1="606.1" x2="1244" y2="606.1" stroke="#777" stroke-width="2"/>
<line x1="289.1" y1="607.2" x2="289.1" y2="614.6" stroke="#666" stroke-width="2.4"/>
<line x1="342.0" y1="607.2" x2="342.0" y2="614.6" stroke="#666" stroke-width="2.4"/>
<line x1="394.9" y1="607.2" x2="394.9" y2="614.6" stroke="#666" stroke-width="2.4"/>
<line x1="447.7" y1="607.2" x2="447.7" y2="614.6" stroke="#666" stroke-width="2.4"/>
<line x1="500.6" y1="607.2" x2="500.6" y2="614.6" stroke="#666" stroke-width="2.4"/>
<line x1="553.5" y1="607.2" x2="553.5" y2="614.6" stroke="#666" stroke-width="2.4"/>
<line x1="606.3" y1="607.2" x2="606.3" y2="614.6" stroke="#666" stroke-width="2.4"/>
<line x1="659.2" y1="607.2" x2="659.2" y2="614.6" stroke="#666" stroke-width="2.4"/>
<line x1="712.0" y1="607.2" x2="712.0" y2="614.6" stroke="#666" stroke-width="2.4"/>
<line x1="764.9" y1="607.2" x2="764.9" y2="614.6" stroke="#666" stroke-width="2.4"/>
<line x1="817.8" y1="607.2" x2="817.8" y2="614.6" stroke="#666" stroke-width="2.4"/>
<line x1="870.6" y1="607.2" x2="870.6" y2="614.6" stroke="#666" stroke-width="2.4"/>
<line x1="923.5" y1="607.2" x2="923.5" y2="614.6" stroke="#666" stroke-width="2.4"/>
<line x1="976.3" y1="607.2" x2="976.3" y2="614.6" stroke="#666" stroke-width="2.4"/>
<line x1="1029.2" y1="607.2" x2="1029.2" y2="614.6" stroke="#666" stroke-width="2.4"/>
<line x1="1082.0" y1="607.2" x2="1082.0" y2="614.6" stroke="#666" stroke-width="2.4"/>
<line x1="1134.9" y1="607.2" x2="1134.9" y2="614.6" stroke="#666" stroke-width="2.4"/>
<line x1="1187.8" y1="607.2" x2="1187.8" y2="614.6" stroke="#666" stroke-width="2.4"/>
<text transform="translate(754.6 44.4) scale(1.043 1)" font-size="34" text-anchor="middle" fill="#000" stroke="#fff" stroke-width="0.9">Goods Trade Balance, Imports and Exports</text>
<text transform="translate(264.8 73.3) scale(1.07 1)" font-size="29" text-anchor="end" fill="#000" stroke="#fff" stroke-width="0.4">60</text>
<text transform="translate(264.8 141.1) scale(1.07 1)" font-size="29" text-anchor="end" fill="#000" stroke="#fff" stroke-width="0.4">50</text>
<text transform="translate(264.8 208.8) scale(1.07 1)" font-size="29" text-anchor="end" fill="#000" stroke="#fff" stroke-width="0.4">40</text>
<text transform="translate(264.8 276.6) scale(1.07 1)" font-size="29" text-anchor="end" fill="#000" stroke="#fff" stroke-width="0.4">30</text>
<text transform="translate(264.8 344.4) scale(1.07 1)" font-size="29" text-anchor="end" fill="#000" stroke="#fff" stroke-width="0.4">20</text>
<text transform="translate(264.8 412.1) scale(1.07 1)" font-size="29" text-anchor="end" fill="#000" stroke="#fff" stroke-width="0.4">10</text>
<text transform="translate(264.8 479.9) scale(1.07 1)" font-size="29" text-anchor="end" fill="#000" stroke="#fff" stroke-width="0.4">0</text>
<text transform="translate(264.8 547.7) scale(1.07 1)" font-size="29" text-anchor="end" fill="#000" stroke="#fff" stroke-width="0.4">-10</text>
<text transform="translate(264.8 615.5) scale(1.07 1)" font-size="29" text-anchor="end" fill="#000" stroke="#fff" stroke-width="0.4">-20</text>
<text transform="translate(1261.0 73.1) scale(1.046 1)" font-size="28" fill="#000" stroke="#fff" stroke-width="0.2">20</text>
<text transform="translate(1261.0 181.4) scale(1.046 1)" font-size="28" fill="#000" stroke="#fff" stroke-width="0.2">15</text>
<text transform="translate(1261.0 289.7) scale(1.046 1)" font-size="28" fill="#000" stroke="#fff" stroke-width="0.2">10</text>
<text transform="translate(1261.0 398.0) scale(1.046 1)" font-size="28" fill="#000" stroke="#fff" stroke-width="0.2">5</text>
<text transform="translate(1261.0 506.3) scale(1.046 1)" font-size="28" fill="#000" stroke="#fff" stroke-width="0.2">0</text>
<text transform="translate(1261.0 614.6) scale(1.046 1)" font-size="28" fill="#000" stroke="#fff" stroke-width="0.2">-5</text>
<text transform="translate(291.1 647.0) scale(1.046 1)" font-size="28" text-anchor="middle" fill="#000" stroke="#fff" stroke-width="0.2">90</text>
<text transform="translate(344.0 647.0) scale(1.046 1)" font-size="28" text-anchor="middle" fill="#000" stroke="#fff" stroke-width="0.2">92</text>
<text transform="translate(396.9 647.0) scale(1.046 1)" font-size="28" text-anchor="middle" fill="#000" stroke="#fff" stroke-width="0.2">94</text>
<text transform="translate(449.7 647.0) scale(1.046 1)" font-size="28" text-anchor="middle" fill="#000" stroke="#fff" stroke-width="0.2">96</text>
<text transform="translate(502.6 647.0) scale(1.046 1)" font-size="28" text-anchor="middle" fill="#000" stroke="#fff" stroke-width="0.2">98</text>
<text transform="translate(555.5 647.0) scale(1.046 1)" font-size="28" text-anchor="middle" fill="#000" stroke="#fff" stroke-width="0.2">00</text>
<text transform="translate(608.3 647.0) scale(1.046 1)" font-size="28" text-anchor="middle" fill="#000" stroke="#fff" stroke-width="0.2">02</text>
<text transform="translate(661.2 647.0) scale(1.046 1)" font-size="28" text-anchor="middle" fill="#000" stroke="#fff" stroke-width="0.2">04</text>
<text transform="translate(714.0 647.0) scale(1.046 1)" font-size="28" text-anchor="middle" fill="#000" stroke="#fff" stroke-width="0.2">06</text>
<text transform="translate(766.9 647.0) scale(1.046 1)" font-size="28" text-anchor="middle" fill="#000" stroke="#fff" stroke-width="0.2">08</text>
<text transform="translate(819.8 647.0) scale(1.046 1)" font-size="28" text-anchor="middle" fill="#000" stroke="#fff" stroke-width="0.2">10</text>
<text transform="translate(872.6 647.0) scale(1.046 1)" font-size="28" text-anchor="middle" fill="#000" stroke="#fff" stroke-width="0.2">12</text>
<text transform="translate(925.5 647.0) scale(1.046 1)" font-size="28" text-anchor="middle" fill="#000" stroke="#fff" stroke-width="0.2">14</text>
<text transform="translate(978.3 647.0) scale(1.046 1)" font-size="28" text-anchor="middle" fill="#000" stroke="#fff" stroke-width="0.2">16</text>
<text transform="translate(1031.2 647.0) scale(1.046 1)" font-size="28" text-anchor="middle" fill="#000" stroke="#fff" stroke-width="0.2">18</text>
<text transform="translate(1084.0 647.0) scale(1.046 1)" font-size="28" text-anchor="middle" fill="#000" stroke="#fff" stroke-width="0.2">20</text>
<text transform="translate(1136.9 647.0) scale(1.046 1)" font-size="28" text-anchor="middle" fill="#000" stroke="#fff" stroke-width="0.2">22</text>
<text transform="translate(1189.8 647.0) scale(1.046 1)" font-size="28" text-anchor="middle" fill="#000" stroke="#fff" stroke-width="0.2">24</text>
<text transform="translate(305.5 95.8) scale(1.046 1)" font-size="28" fill="#000" stroke="#fff" stroke-width="0.2">$bn</text>
<text transform="translate(1220.0 95.0) scale(1.046 1)" font-size="28" text-anchor="end" fill="#000" stroke="#fff" stroke-width="0.2">$bn</text>
<text transform="translate(986.0 231.2) scale(1.046 1)" font-size="28" text-anchor="middle" fill="#FF0000" stroke="#fff" stroke-width="0.2">Exports</text>
<text transform="translate(985.5 262.8) scale(1.046 1)" font-size="28" text-anchor="middle" fill="#FF0000" stroke="#fff" stroke-width="0.2">(LHS)</text>
<text transform="translate(911.4 374.0) scale(1.066 1)" font-size="28" text-anchor="middle" fill="#0A65C2" stroke="#fff" stroke-width="0.2">Imports</text>
<text transform="translate(911.1 405.2) scale(1.066 1)" font-size="28" text-anchor="middle" fill="#0A65C2" stroke="#fff" stroke-width="0.2">(LHS)</text>
<text transform="translate(370.3 555.6) scale(1.057 1)" font-size="28" fill="#0DB14B" stroke="#fff" stroke-width="0.2">Trade Balance</text>
<text transform="translate(370.0 588.7) scale(1.046 1)" font-size="28" fill="#0DB14B" stroke="#fff" stroke-width="0.2">(RHS)</text>
</svg></body></html>
